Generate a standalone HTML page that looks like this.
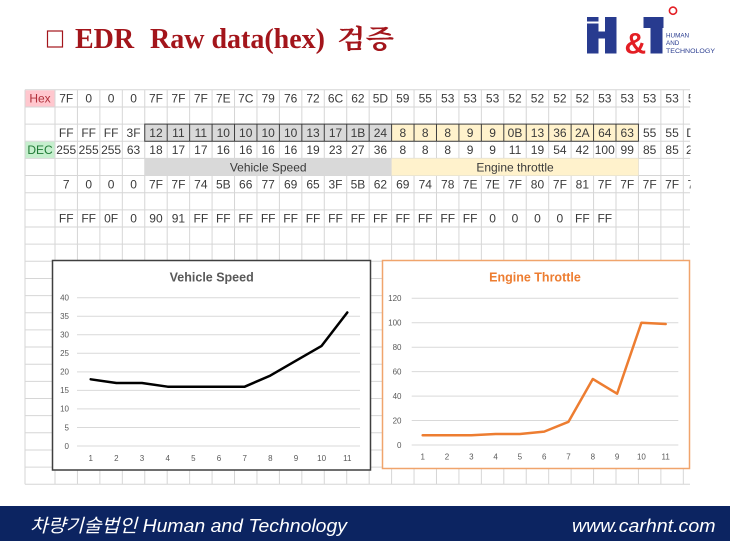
<!DOCTYPE html>
<html><head><meta charset="utf-8"><style>
html,body{margin:0;padding:0;background:#fff;}
svg{display:block;}
.c{font-family:"Liberation Sans",sans-serif;font-size:12px;fill:#3a3a3a;text-anchor:middle;}
.t{font-family:"Liberation Sans",sans-serif;font-size:8px;fill:#595959;}
</style></head><body>
<svg width="730" height="541" viewBox="0 0 730 541" xmlns="http://www.w3.org/2000/svg">
<defs><clipPath id="gc"><rect x="0" y="0" width="690.5" height="541"/></clipPath></defs>
<rect width="730" height="541" fill="#fff"/>

<!-- Title -->
<rect x="47.5" y="31" width="15" height="16" fill="none" stroke="#a3151b" stroke-width="1.2"/>
<text x="75" y="48" font-family="'Liberation Serif',serif" font-weight="bold" font-size="28" fill="#a3151b">EDR</text>
<text x="150" y="48" font-family="'Liberation Serif',serif" font-weight="bold" font-size="28" fill="#a3151b">Raw data(hex)</text>
<text x="337" y="48" font-family="'Liberation Serif','Noto Serif CJK SC',serif" font-weight="bold" font-size="26" fill="#a3151b" textLength="57" lengthAdjust="spacingAndGlyphs">검증</text>

<!-- Logo -->
<g fill="#283b8f">
<rect x="587" y="17" width="11.5" height="4.5"/>
<rect x="587" y="23.5" width="11.5" height="30"/>
<rect x="605" y="17" width="11.5" height="36.5"/>
<rect x="597" y="31.5" width="9" height="7"/>
<rect x="643.5" y="17" width="20" height="11"/>
<rect x="650.5" y="17" width="12" height="36.5"/>
</g>
<text x="624.5" y="53.3" font-family="'Liberation Sans',sans-serif" font-weight="bold" font-size="30" fill="#e31e24">&amp;</text>
<circle cx="673" cy="10.7" r="3.6" fill="none" stroke="#e31e24" stroke-width="1.6"/>
<g font-family="'Liberation Sans',sans-serif" font-size="6.3" fill="#283b8f">
<text x="666" y="37.3">HUMAN</text>
<text x="666" y="44.8">AND</text>
<text x="666" y="53" textLength="49" lengthAdjust="spacingAndGlyphs">TECHNOLOGY</text>
</g>

<!-- Spreadsheet grid -->
<g clip-path="url(#gc)">
<g stroke="#d6d6d6" stroke-width="1">
<line x1="25" y1="89.8" x2="25" y2="484.25"/>
<line x1="55" y1="89.8" x2="55" y2="484.25"/>
<line x1="77.44" y1="89.8" x2="77.44" y2="484.25"/>
<line x1="99.88" y1="89.8" x2="99.88" y2="484.25"/>
<line x1="122.32" y1="89.8" x2="122.32" y2="484.25"/>
<line x1="144.76" y1="89.8" x2="144.76" y2="484.25"/>
<line x1="167.2" y1="89.8" x2="167.2" y2="484.25"/>
<line x1="189.64" y1="89.8" x2="189.64" y2="484.25"/>
<line x1="212.08" y1="89.8" x2="212.08" y2="484.25"/>
<line x1="234.52" y1="89.8" x2="234.52" y2="484.25"/>
<line x1="256.96" y1="89.8" x2="256.96" y2="484.25"/>
<line x1="279.4" y1="89.8" x2="279.4" y2="484.25"/>
<line x1="301.84" y1="89.8" x2="301.84" y2="484.25"/>
<line x1="324.28" y1="89.8" x2="324.28" y2="484.25"/>
<line x1="346.72" y1="89.8" x2="346.72" y2="484.25"/>
<line x1="369.16" y1="89.8" x2="369.16" y2="484.25"/>
<line x1="391.6" y1="89.8" x2="391.6" y2="484.25"/>
<line x1="414.04" y1="89.8" x2="414.04" y2="484.25"/>
<line x1="436.48" y1="89.8" x2="436.48" y2="484.25"/>
<line x1="458.92" y1="89.8" x2="458.92" y2="484.25"/>
<line x1="481.36" y1="89.8" x2="481.36" y2="484.25"/>
<line x1="503.8" y1="89.8" x2="503.8" y2="484.25"/>
<line x1="526.24" y1="89.8" x2="526.24" y2="484.25"/>
<line x1="548.68" y1="89.8" x2="548.68" y2="484.25"/>
<line x1="571.12" y1="89.8" x2="571.12" y2="484.25"/>
<line x1="593.56" y1="89.8" x2="593.56" y2="484.25"/>
<line x1="616" y1="89.8" x2="616" y2="484.25"/>
<line x1="638.44" y1="89.8" x2="638.44" y2="484.25"/>
<line x1="660.88" y1="89.8" x2="660.88" y2="484.25"/>
<line x1="683.32" y1="89.8" x2="683.32" y2="484.25"/>
<line x1="25" y1="89.8" x2="690" y2="89.8"/>
<line x1="25" y1="106.95" x2="690" y2="106.95"/>
<line x1="25" y1="124.1" x2="690" y2="124.1"/>
<line x1="25" y1="141.25" x2="690" y2="141.25"/>
<line x1="25" y1="158.4" x2="690" y2="158.4"/>
<line x1="25" y1="175.55" x2="690" y2="175.55"/>
<line x1="25" y1="192.7" x2="690" y2="192.7"/>
<line x1="25" y1="209.85" x2="690" y2="209.85"/>
<line x1="25" y1="227" x2="690" y2="227"/>
<line x1="25" y1="244.15" x2="690" y2="244.15"/>
<line x1="25" y1="261.3" x2="690" y2="261.3"/>
<line x1="25" y1="278.45" x2="690" y2="278.45"/>
<line x1="25" y1="295.6" x2="690" y2="295.6"/>
<line x1="25" y1="312.75" x2="690" y2="312.75"/>
<line x1="25" y1="329.9" x2="690" y2="329.9"/>
<line x1="25" y1="347.05" x2="690" y2="347.05"/>
<line x1="25" y1="364.2" x2="690" y2="364.2"/>
<line x1="25" y1="381.35" x2="690" y2="381.35"/>
<line x1="25" y1="398.5" x2="690" y2="398.5"/>
<line x1="25" y1="415.65" x2="690" y2="415.65"/>
<line x1="25" y1="432.8" x2="690" y2="432.8"/>
<line x1="25" y1="449.95" x2="690" y2="449.95"/>
<line x1="25" y1="467.1" x2="690" y2="467.1"/>
<line x1="25" y1="484.25" x2="690" y2="484.25"/>
</g>

<!-- label cells -->
<rect x="25.5" y="90.3" width="29" height="16.2" fill="#ffc7ce"/>
<text x="40" y="102.7" class="c" style="fill:#b0303a">Hex</text>
<rect x="25.5" y="141.75" width="29" height="16.2" fill="#c6efce"/>
<text x="40" y="154.1" class="c" style="fill:#1f7a35">DEC</text>

<!-- bands -->
<rect x="144.76" y="158.4" width="246.84" height="17.15" fill="#d9d9d9"/>
<rect x="391.6" y="158.4" width="246.84" height="17.15" fill="#fff2cc"/>
<text x="268.18" y="171.3" class="c">Vehicle Speed</text>
<text x="515.02" y="171.3" class="c">Engine throttle</text>

<!-- boxed row -->
<rect x="144.76" y="124.1" width="246.84" height="17.15" fill="#d9d9d9"/>
<rect x="391.6" y="124.1" width="246.84" height="17.15" fill="#fff2cc"/>
<g stroke="#3d3d3d" stroke-width="1" fill="none">
<rect x="144.76" y="124.1" width="493.68" height="17.15"/>
<line x1="167.2" y1="124.1" x2="167.2" y2="141.25"/>
<line x1="189.64" y1="124.1" x2="189.64" y2="141.25"/>
<line x1="212.08" y1="124.1" x2="212.08" y2="141.25"/>
<line x1="234.52" y1="124.1" x2="234.52" y2="141.25"/>
<line x1="256.96" y1="124.1" x2="256.96" y2="141.25"/>
<line x1="279.4" y1="124.1" x2="279.4" y2="141.25"/>
<line x1="301.84" y1="124.1" x2="301.84" y2="141.25"/>
<line x1="324.28" y1="124.1" x2="324.28" y2="141.25"/>
<line x1="346.72" y1="124.1" x2="346.72" y2="141.25"/>
<line x1="369.16" y1="124.1" x2="369.16" y2="141.25"/>
<line x1="391.6" y1="124.1" x2="391.6" y2="141.25"/>
<line x1="414.04" y1="124.1" x2="414.04" y2="141.25"/>
<line x1="436.48" y1="124.1" x2="436.48" y2="141.25"/>
<line x1="458.92" y1="124.1" x2="458.92" y2="141.25"/>
<line x1="481.36" y1="124.1" x2="481.36" y2="141.25"/>
<line x1="503.8" y1="124.1" x2="503.8" y2="141.25"/>
<line x1="526.24" y1="124.1" x2="526.24" y2="141.25"/>
<line x1="548.68" y1="124.1" x2="548.68" y2="141.25"/>
<line x1="571.12" y1="124.1" x2="571.12" y2="141.25"/>
<line x1="593.56" y1="124.1" x2="593.56" y2="141.25"/>
<line x1="616" y1="124.1" x2="616" y2="141.25"/>
</g>

<!-- Row 0 Hex -->
<text class="c" y="102.7"><tspan x="66.22">7F</tspan><tspan x="88.66">0</tspan><tspan x="111.1">0</tspan><tspan x="133.54">0</tspan><tspan x="155.98">7F</tspan><tspan x="178.42">7F</tspan><tspan x="200.86">7F</tspan><tspan x="223.3">7E</tspan><tspan x="245.74">7C</tspan><tspan x="268.18">79</tspan><tspan x="290.62">76</tspan><tspan x="313.06">72</tspan><tspan x="335.5">6C</tspan><tspan x="357.94">62</tspan><tspan x="380.38">5D</tspan><tspan x="402.82">59</tspan><tspan x="425.26">55</tspan><tspan x="447.7">53</tspan><tspan x="470.14">53</tspan><tspan x="492.58">53</tspan><tspan x="515.02">52</tspan><tspan x="537.46">52</tspan><tspan x="559.9">52</tspan><tspan x="582.34">52</tspan><tspan x="604.78">53</tspan><tspan x="627.22">53</tspan><tspan x="649.66">53</tspan><tspan x="672.1">53</tspan><tspan x="694.54">53</tspan></text>

<!-- Row 2 -->
<text class="c" y="137"><tspan x="66.22">FF</tspan><tspan x="88.66">FF</tspan><tspan x="111.1">FF</tspan><tspan x="133.54">3F</tspan><tspan x="155.98">12</tspan><tspan x="178.42">11</tspan><tspan x="200.86">11</tspan><tspan x="223.3">10</tspan><tspan x="245.74">10</tspan><tspan x="268.18">10</tspan><tspan x="290.62">10</tspan><tspan x="313.06">13</tspan><tspan x="335.5">17</tspan><tspan x="357.94">1B</tspan><tspan x="380.38">24</tspan><tspan x="402.82">8</tspan><tspan x="425.26">8</tspan><tspan x="447.7">8</tspan><tspan x="470.14">9</tspan><tspan x="492.58">9</tspan><tspan x="515.02">0B</tspan><tspan x="537.46">13</tspan><tspan x="559.9">36</tspan><tspan x="582.34">2A</tspan><tspan x="604.78">64</tspan><tspan x="627.22">63</tspan><tspan x="649.66">55</tspan><tspan x="672.1">55</tspan><tspan x="694.54">DE</tspan></text>

<!-- Row 3 DEC -->
<text class="c" y="154.1"><tspan x="66.22">255</tspan><tspan x="88.66">255</tspan><tspan x="111.1">255</tspan><tspan x="133.54">63</tspan><tspan x="155.98">18</tspan><tspan x="178.42">17</tspan><tspan x="200.86">17</tspan><tspan x="223.3">16</tspan><tspan x="245.74">16</tspan><tspan x="268.18">16</tspan><tspan x="290.62">16</tspan><tspan x="313.06">19</tspan><tspan x="335.5">23</tspan><tspan x="357.94">27</tspan><tspan x="380.38">36</tspan><tspan x="402.82">8</tspan><tspan x="425.26">8</tspan><tspan x="447.7">8</tspan><tspan x="470.14">9</tspan><tspan x="492.58">9</tspan><tspan x="515.02">11</tspan><tspan x="537.46">19</tspan><tspan x="559.9">54</tspan><tspan x="582.34">42</tspan><tspan x="604.78">100</tspan><tspan x="627.22">99</tspan><tspan x="649.66">85</tspan><tspan x="672.1">85</tspan><tspan x="696">222</tspan></text>

<!-- Row 5 -->
<text class="c" y="188.4"><tspan x="66.22">7</tspan><tspan x="88.66">0</tspan><tspan x="111.1">0</tspan><tspan x="133.54">0</tspan><tspan x="155.98">7F</tspan><tspan x="178.42">7F</tspan><tspan x="200.86">74</tspan><tspan x="223.3">5B</tspan><tspan x="245.74">66</tspan><tspan x="268.18">77</tspan><tspan x="290.62">69</tspan><tspan x="313.06">65</tspan><tspan x="335.5">3F</tspan><tspan x="357.94">5B</tspan><tspan x="380.38">62</tspan><tspan x="402.82">69</tspan><tspan x="425.26">74</tspan><tspan x="447.7">78</tspan><tspan x="470.14">7E</tspan><tspan x="492.58">7E</tspan><tspan x="515.02">7F</tspan><tspan x="537.46">80</tspan><tspan x="559.9">7F</tspan><tspan x="582.34">81</tspan><tspan x="604.78">7F</tspan><tspan x="627.22">7F</tspan><tspan x="649.66">7F</tspan><tspan x="672.1">7F</tspan><tspan x="694.54">7F</tspan></text>

<!-- Row 7 -->
<text class="c" y="222.7"><tspan x="66.22">FF</tspan><tspan x="88.66">FF</tspan><tspan x="111.1">0F</tspan><tspan x="133.54">0</tspan><tspan x="155.98">90</tspan><tspan x="178.42">91</tspan><tspan x="200.86">FF</tspan><tspan x="223.3">FF</tspan><tspan x="245.74">FF</tspan><tspan x="268.18">FF</tspan><tspan x="290.62">FF</tspan><tspan x="313.06">FF</tspan><tspan x="335.5">FF</tspan><tspan x="357.94">FF</tspan><tspan x="380.38">FF</tspan><tspan x="402.82">FF</tspan><tspan x="425.26">FF</tspan><tspan x="447.7">FF</tspan><tspan x="470.14">FF</tspan><tspan x="492.58">0</tspan><tspan x="515.02">0</tspan><tspan x="537.46">0</tspan><tspan x="559.9">0</tspan><tspan x="582.34">FF</tspan><tspan x="604.78">FF</tspan></text>
</g>

<!-- Vehicle Speed chart -->
<rect x="52.5" y="260.5" width="318" height="209.5" fill="#fff" stroke="#3f3f3f" stroke-width="1.5"/>
<text x="211.7" y="281.5" font-family="'Liberation Sans',sans-serif" font-weight="bold" font-size="12.5" fill="#595959" text-anchor="middle">Vehicle Speed</text>
<g stroke="#d9d9d9" stroke-width="1">
<line x1="77" y1="297.7" x2="360" y2="297.7"/>
<line x1="77" y1="316.24" x2="360" y2="316.24"/>
<line x1="77" y1="334.78" x2="360" y2="334.78"/>
<line x1="77" y1="353.31" x2="360" y2="353.31"/>
<line x1="77" y1="371.85" x2="360" y2="371.85"/>
<line x1="77" y1="390.39" x2="360" y2="390.39"/>
<line x1="77" y1="408.93" x2="360" y2="408.93"/>
<line x1="77" y1="427.46" x2="360" y2="427.46"/>
<line x1="77" y1="446" x2="360" y2="446"/>
</g>
<g class="t" text-anchor="end">
<text x="69" y="300.5">40</text>
<text x="69" y="319">35</text>
<text x="69" y="337.6">30</text>
<text x="69" y="356.1">25</text>
<text x="69" y="374.7">20</text>
<text x="69" y="393.2">15</text>
<text x="69" y="411.7">10</text>
<text x="69" y="430.3">5</text>
<text x="69" y="448.8">0</text>
</g>
<g class="t" text-anchor="middle">
<text x="90.7" y="461">1</text><text x="116.4" y="461">2</text><text x="142" y="461">3</text><text x="167.7" y="461">4</text><text x="193.3" y="461">5</text><text x="219" y="461">6</text><text x="244.7" y="461">7</text><text x="270.3" y="461">8</text><text x="296" y="461">9</text><text x="321.6" y="461">10</text><text x="347.3" y="461">11</text>
</g>
<polyline fill="none" stroke="#000" stroke-width="2.5" stroke-linejoin="round" stroke-linecap="round" points="90.7,379.3 116.4,383 142,383 167.7,386.7 193.3,386.7 219,386.7 244.7,386.7 270.3,375.6 296,360.7 321.6,345.9 347.3,312.5"/>

<!-- Engine Throttle chart -->
<rect x="382.5" y="260.5" width="307" height="208" fill="#fff" stroke="#f0a46c" stroke-width="1.5"/>
<text x="535" y="281.5" font-family="'Liberation Sans',sans-serif" font-weight="bold" font-size="12.5" fill="#ed7d31" text-anchor="middle">Engine Throttle</text>
<g stroke="#d9d9d9" stroke-width="1">
<line x1="411.7" y1="298.3" x2="678.3" y2="298.3"/>
<line x1="411.7" y1="322.75" x2="678.3" y2="322.75"/>
<line x1="411.7" y1="347.2" x2="678.3" y2="347.2"/>
<line x1="411.7" y1="371.65" x2="678.3" y2="371.65"/>
<line x1="411.7" y1="396.1" x2="678.3" y2="396.1"/>
<line x1="411.7" y1="420.55" x2="678.3" y2="420.55"/>
<line x1="411.7" y1="445" x2="678.3" y2="445"/>
</g>
<g class="t" text-anchor="end">
<text x="401.5" y="301.1">120</text>
<text x="401.5" y="325.6">100</text>
<text x="401.5" y="350">80</text>
<text x="401.5" y="374.5">60</text>
<text x="401.5" y="398.9">40</text>
<text x="401.5" y="423.4">20</text>
<text x="401.5" y="447.8">0</text>
</g>
<g class="t" text-anchor="middle">
<text x="422.7" y="459.5">1</text><text x="447" y="459.5">2</text><text x="471.3" y="459.5">3</text><text x="495.6" y="459.5">4</text><text x="519.9" y="459.5">5</text><text x="544.2" y="459.5">6</text><text x="568.5" y="459.5">7</text><text x="592.8" y="459.5">8</text><text x="617.1" y="459.5">9</text><text x="641.4" y="459.5">10</text><text x="665.7" y="459.5">11</text>
</g>
<polyline fill="none" stroke="#ed7d31" stroke-width="2.5" stroke-linejoin="round" stroke-linecap="round" points="422.7,435.2 447,435.2 471.3,435.2 495.6,434 519.9,434 544.2,431.6 568.5,421.8 592.8,379 617.1,393.7 641.4,322.75 665.7,324"/>

<!-- Footer -->
<rect x="0" y="506" width="730" height="35" fill="#0c2461"/>
<text x="30" y="532" font-family="'Liberation Sans','Noto Sans CJK KR',sans-serif" font-style="italic" font-size="18.5" fill="#fff" textLength="317" lengthAdjust="spacingAndGlyphs">차량기술법인 Human and Technology</text>
<text x="572" y="532" font-family="'Liberation Sans',sans-serif" font-style="italic" font-size="18.5" fill="#fff" textLength="143.5" lengthAdjust="spacingAndGlyphs">www.carhnt.com</text>
</svg>
</body></html>
